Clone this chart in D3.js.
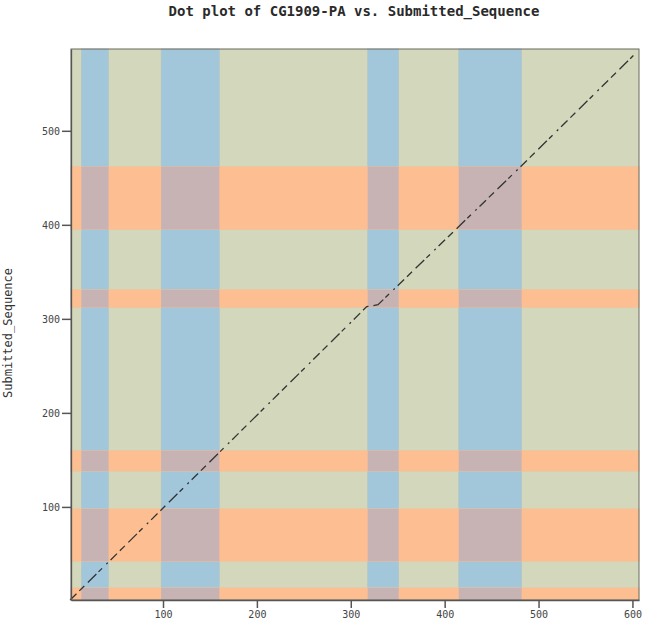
<!DOCTYPE html>
<html>
<head>
<meta charset="utf-8">
<script src="https://cdn.jsdelivr.net/npm/d3@7"></script>
<style>
  body { margin: 0; background: #fff; }
</style>
</head>
<body>
<div id="chart"></div>
<script>
// Exon blocks of CG1909-PA (x) and Submitted_Sequence (y), residue ranges
var xBlocks = [[13, 42], [98, 160], [318, 351], [415, 482]];
var yBlocks = [[1, 14], [42, 98], [138, 160], [312, 331], [395, 462]];

// Alignment path (x, y) drawn as a dashed dot-plot diagonal
var pathX = [1, 317, 329, 480, 601];
var pathY = [1, 313, 315, 461, 580];

var xTicks = [100, 200, 300, 400, 500, 600];
var yTicks = [100, 200, 300, 400, 500];

var width = 647, height = 627;
var margin = { top: 49, right: 8, bottom: 27, left: 71 };

var svg = d3.select("#chart")
  .append("svg")
    .attr("width", width)
    .attr("height", height);

var x = d3.scaleLinear().domain([2, 607]).range([margin.left, width - margin.right]);
var y = d3.scaleLinear().domain([1, 587]).range([height - margin.bottom, margin.top]);

var plot = svg.append("g");

// Background
plot.append("rect")
  .attr("x", x(2)).attr("y", y(587))
  .attr("width", x(607) - x(2)).attr("height", y(1) - y(587))
  .attr("fill", "#d3d7bb");

// Vertical blue bands
plot.selectAll(".xb")
  .data(xBlocks)
  .join("rect")
    .attr("x", function(d) { return x(d[0]); })
    .attr("y", y(587))
    .attr("width", function(d) { return x(d[1]) - x(d[0]); })
    .attr("height", y(1) - y(587))
    .attr("fill", "#a3c7da")
    .attr("stroke", "#b4c3c4").attr("stroke-width", 0.6);

// Horizontal orange bands
plot.selectAll(".yb")
  .data(yBlocks)
  .join("rect")
    .attr("x", x(2))
    .attr("y", function(d) { return y(d[1]); })
    .attr("width", x(607) - x(2))
    .attr("height", function(d) { return y(d[0]) - y(d[1]); })
    .attr("fill", "#fdbf92")
    .attr("stroke", "#e8c6a0").attr("stroke-width", 0.6);

// Overlap cells
var cells = [];
xBlocks.forEach(function(a) { yBlocks.forEach(function(b) { cells.push([a, b]); }); });
plot.selectAll(".cell")
  .data(cells)
  .join("rect")
    .attr("x", function(d) { return x(d[0][0]); })
    .attr("y", function(d) { return y(d[1][1]); })
    .attr("width", function(d) { return x(d[0][1]) - x(d[0][0]); })
    .attr("height", function(d) { return y(d[1][0]) - y(d[1][1]); })
    .attr("fill", "#c7b3b4");

// Diagonal
var pts = pathX.map(function(v, i) { return [v, pathY[i]]; });
plot.append("path")
  .datum(pts)
  .attr("d", d3.line().x(function(d) { return x(d[0]); }).y(function(d) { return y(d[1]); }))
  .attr("fill", "none")
  .attr("stroke", "#333")
  .attr("stroke-width", 1.3)
  .attr("stroke-dasharray", "9,4,7,5,12,3,5,6,2,4");

// Frame
svg.append("rect")
  .attr("x", x(2)).attr("y", y(587))
  .attr("width", x(607) - x(2)).attr("height", y(1) - y(587))
  .attr("fill", "none").attr("stroke", "#6a6a60").attr("stroke-width", 1);

// Axes
var xAxis = svg.append("g")
  .attr("transform", "translate(0," + y(1) + ")")
  .call(d3.axisBottom(x).tickValues(xTicks).tickSize(8).tickSizeOuter(0).tickPadding(3));
var yAxis = svg.append("g")
  .attr("transform", "translate(" + x(2) + ",0)")
  .call(d3.axisLeft(y).tickValues(yTicks).tickSize(9).tickSizeOuter(0).tickPadding(2));

[xAxis, yAxis].forEach(function(a) {
  a.select(".domain").attr("stroke", "#555").attr("stroke-width", 1.3);
  a.selectAll(".tick line").attr("stroke", "#555").attr("stroke-width", 1.5);
  a.selectAll("text")
    .attr("fill", "#444")
    .style("font-family", "'DejaVu Sans Mono', monospace")
    .style("font-size", "10px");
});

// Title
svg.append("text")
  .attr("x", 354).attr("y", 16)
  .attr("text-anchor", "middle")
  .style("font-family", "'DejaVu Sans Mono', monospace")
  .style("font-size", "14px")
  .style("font-weight", "bold")
  .attr("fill", "#2a2a2a")
  .text("Dot plot of CG1909-PA vs. Submitted_Sequence");

// Y label
svg.append("text")
  .attr("transform", "translate(12," + 333 + ") rotate(-90)")
  .attr("text-anchor", "middle")
  .style("font-family", "'DejaVu Sans Mono', monospace")
  .style("font-size", "12px")
  .attr("fill", "#333")
  .text("Submitted_Sequence");
</script>
</body>
</html>
